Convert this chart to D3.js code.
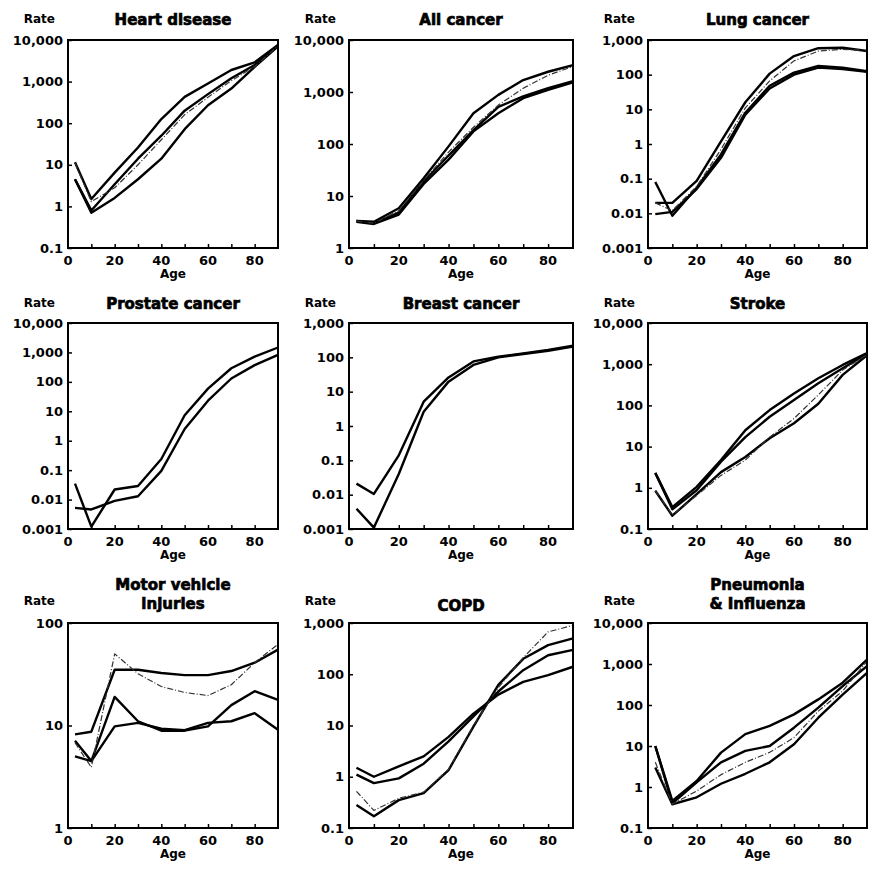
<!DOCTYPE html>
<html>
<head>
<meta charset="utf-8">
<script src="https://cdn.jsdelivr.net/npm/d3@7"></script>
<style>
  body { margin: 0; background: #fff; }
  text { font-family: "DejaVu Sans", sans-serif; font-weight: bold; fill: #000; }
</style>
</head>
<body>
<svg id="chart" width="874" height="872"></svg>
<script>
// ages at which rates are read (x values)
const ages = [3, 10, 20, 30, 40, 50, 60, 70, 80, 90];
const xTicks = [0, 20, 40, 60, 80];

const titles = [
  ['Heart disease'], ['All cancer'], ['Lung cancer'],
  ['Prostate cancer'], ['Breast cancer'], ['Stroke'],
  ['Motor vehicle', 'injuries'], ['COPD'], ['Pneumonia', '& Influenza']
];
const yDomains = [
  [0.1, 10000], [1, 10000], [0.001, 1000],
  [0.001, 10000], [0.001, 1000], [0.1, 10000],
  [1, 100], [0.1, 1000], [0.1, 10000]
];

// rates per panel, one row per group; the 4th row is the thin dashed one
const heartDisease = [
  [11.5, 1.5, 6.5, 26, 126, 430, 900, 1900, 2900, 7600],
  [4.5, 0.8, 3.4, 14, 50, 200, 500, 1200, 2500, 7500],
  [4.5, 0.7, 1.6, 4.5, 14, 72, 270, 680, 2250, 7000],
  [11, 1.3, 2.8, 10, 40, 160, 420, 1050, 2300, 7200]
];
const allCancer = [
  [3.3, 3.2, 5.8, 22, 90, 390, 880, 1700, 2450, 3300],
  [3.3, 3.0, 4.8, 19, 60, 185, 520, 820, 1180, 1620],
  [3.2, 2.9, 4.4, 17, 50, 175, 390, 760, 1100, 1540],
  [3.3, 3.0, 5.2, 20, 70, 210, 560, 1180, 2100, 3100]
];
const lungCancer = [
  [0.02, 0.02, 0.087, 1.2, 16, 107, 345, 580, 600, 480],
  [0.08, 0.0085, 0.055, 0.5, 8, 48, 115, 178, 160, 125],
  [0.0095, 0.011, 0.05, 0.4, 7, 40, 100, 160, 145, 120],
  [0.02, 0.012, 0.06, 0.7, 11, 66, 250, 480, 540, 500]
];
const prostateCancer = [
  [0.035, 0.0012, 0.022, 0.029, 0.24, 7.3, 59, 290, 720, 1470],
  [0.0052, 0.0046, 0.009, 0.013, 0.094, 2.5, 23, 130, 370, 830]
];
const breastCancer = [
  [0.021, 0.0105, 0.14, 5.1, 26, 76, 105, 130, 165, 218],
  [0.0039, 0.0011, 0.04, 2.6, 19.6, 60, 100, 125, 155, 205]
];
const stroke = [
  [2.3, 0.34, 1.05, 4.7, 25, 77, 195, 455, 960, 1850],
  [2.3, 0.3, 0.87, 4.3, 17, 53, 135, 345, 800, 1800],
  [0.85, 0.21, 0.7, 2.4, 5.6, 16, 37, 110, 550, 1650],
  [0.85, 0.22, 0.65, 2, 4.7, 17, 48, 180, 720, 1700]
];
const motorVehicle = [
  [8.2, 8.7, 35, 35, 32.5, 31, 31, 34, 41, 55],
  [7.1, 4.5, 19, 11, 8.9, 8.9, 9.8, 15.8, 21.6, 17.8],
  [5.0, 4.5, 9.8, 10.6, 9.3, 9.0, 10.6, 11, 13.2, 9.1],
  [6.8, 3.9, 50, 32, 24, 21, 19.6, 25, 41, 62]
];
const copd = [
  [1.5, 1.0, 1.6, 2.5, 6, 17, 40, 71, 96, 140],
  [1.1, 0.75, 0.93, 1.8, 4.9, 15, 46, 120, 235, 300],
  [0.28, 0.17, 0.35, 0.48, 1.35, 9.5, 62, 200, 370, 500],
  [0.52, 0.22, 0.38, 0.5, 1.4, 10, 55, 210, 670, 900]
];
const pneumonia = [
  [10, 0.46, 1.4, 6.9, 19.5, 31, 59, 137, 350, 1280],
  [10, 0.4, 1.3, 4, 7.6, 10, 28, 86, 290, 890],
  [3, 0.38, 0.56, 1.2, 2.1, 4, 11, 49, 180, 610],
  [4, 0.38, 0.8, 2, 4, 7, 16, 71, 220, 1170]
];

const panelData = [heartDisease, allCancer, lungCancer, prostateCancer, breastCancer,
  stroke, motorVehicle, copd, pneumonia];

// layout
const cols = [{ x: 68, w: 210 }, { x: 349, w: 224 }, { x: 648, w: 219 }];
const rows = [
  { y: 40, h: 208, title: 25, rate: 23 },
  { y: 323, h: 206, title: 309, rate: 307 },
  { y: 623, h: 205, title: 611, rate: 605 }
];

const svg = d3.select('#chart');
const fmt = d3.format(',');

panelData.forEach(function (series, i) {
  const col = cols[i % 3];
  const row = rows[Math.floor(i / 3)];
  const x = d3.scaleLinear().domain([0, 90]).range([col.x, col.x + col.w]);
  const y = d3.scaleLog().domain(yDomains[i]).range([row.y + row.h, row.y]);
  const g = svg.append('g');

  const lo = Math.round(Math.log10(yDomains[i][0]));
  const hi = Math.round(Math.log10(yDomains[i][1]));
  const yTicks = d3.range(lo, hi + 1).map(function (e) { return +Math.pow(10, e).toPrecision(1); });

  // y axis, ticks pointing into the box
  const yAxis = g.append('g')
    .attr('transform', 'translate(' + col.x + ',0)')
    .call(d3.axisRight(y).tickValues(yTicks).tickSize(4).tickFormat(''));
  yAxis.select('.domain').remove();
  yAxis.selectAll('line').attr('stroke', '#000').attr('stroke-width', 1.5);
  g.selectAll('.ylab')
    .data(yTicks)
    .enter().append('text')
    .attr('x', col.x - 5)
    .attr('y', function (d) { return y(d); })
    .attr('dy', '0.35em')
    .attr('text-anchor', 'end')
    .style('font-size', '13px')
    .text(function (d) { return fmt(d); });

  // x axis
  const xAxis = g.append('g')
    .attr('transform', 'translate(0,' + (row.y + row.h) + ')')
    .call(d3.axisTop(x).tickValues(d3.range(10, 90, 10)).tickSize(4).tickFormat(''));
  xAxis.select('.domain').remove();
  xAxis.selectAll('line').attr('stroke', '#000').attr('stroke-width', 1.5);
  g.selectAll('.xlab')
    .data(xTicks)
    .enter().append('text')
    .attr('x', function (d) { return x(d); })
    .attr('y', row.y + row.h + 17)
    .attr('text-anchor', 'middle')
    .style('font-size', '13px')
    .text(function (d) { return d; });

  g.append('text')
    .attr('x', col.x + col.w / 2)
    .attr('y', row.y + row.h + 30)
    .attr('text-anchor', 'middle')
    .style('font-size', '12px')
    .text('Age');

  g.append('text')
    .attr('x', col.x - 13)
    .attr('y', row.rate)
    .attr('text-anchor', 'end')
    .style('font-size', '12px')
    .text('Rate');

  const t = titles[i];
  t.forEach(function (line, k) {
    g.append('text')
      .attr('x', col.x + col.w / 2)
      .attr('y', t.length === 1 ? row.title : row.title - 21 + k * 19)
      .attr('text-anchor', 'middle')
      .attr('stroke', '#000')
      .attr('stroke-width', 0.7)
      .style('font-size', '15px')
      .text(line);
  });

  // lines
  const line = d3.line()
    .x(function (d, j) { return x(ages[j]); })
    .y(function (d) { return y(d); });

  g.selectAll('.series')
    .data(series)
    .enter().append('path')
    .attr('d', line)
    .attr('fill', 'none')
    .attr('stroke', function (d, j) { return j === 3 ? '#333' : '#000'; })
    .attr('stroke-width', function (d, j) { return j === 3 ? 1.2 : 2.4; })
    .attr('stroke-dasharray', function (d, j) { return j === 3 ? '6,2,1,2' : null; })
    .attr('stroke-linejoin', 'round');

  // frame
  g.append('rect')
    .attr('x', col.x)
    .attr('y', row.y)
    .attr('width', col.w)
    .attr('height', row.h)
    .attr('fill', 'none')
    .attr('stroke', '#000')
    .attr('stroke-width', 2);
});
</script>
</body>
</html>
